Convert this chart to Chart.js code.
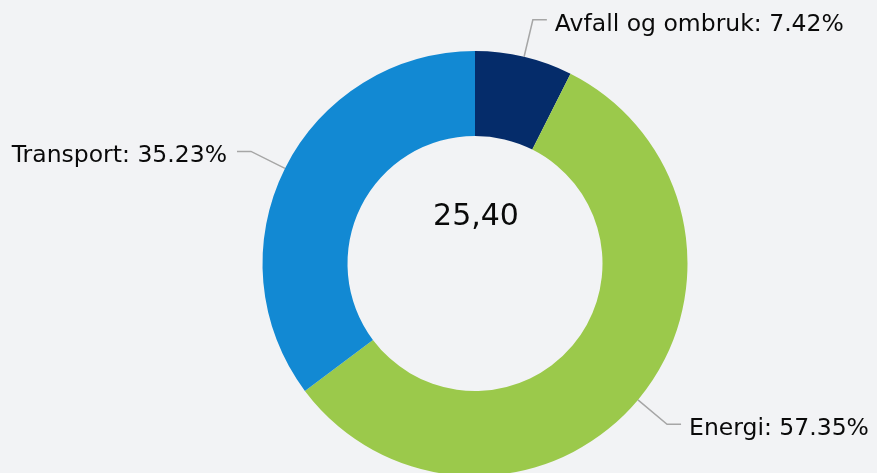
<!DOCTYPE html>
<html>
<head>
<meta charset="utf-8">
<script src="https://cdn.jsdelivr.net/npm/chart.js@4.4.0/dist/chart.umd.min.js"></script>
<style>
  html, body { margin: 0; padding: 0; background: #f2f3f5; overflow: hidden; }
  #wrap { position: relative; width: 877px; height: 480px; }
</style>
</head>
<body>
<div id="wrap"><canvas id="myChart"></canvas></div>
<script>
var labels = ['Avfall og ombruk', 'Energi', 'Transport'];
var shares = [7.42, 57.35, 35.23];
var colors = ['#052c6a', '#9bc94b', '#1289d3'];
var totalText = '25,40';

// labels with leader lines, outside the ring
var outLabels = {
  id: 'outLabels',
  afterDatasetsDraw: function(chart) {
    var ctx = chart.ctx;
    var meta = chart.getDatasetMeta(0);
    ctx.save();
    ctx.font = '23.5px "DejaVu Sans"';
    ctx.textBaseline = 'alphabetic';
    meta.data.forEach(function(arc, i) {
      var p = arc.getProps(['x', 'y', 'startAngle', 'endAngle', 'outerRadius'], true);
      var mid = (p.startAngle + p.endAngle) / 2;
      var cos = Math.cos(mid), sin = Math.sin(mid);
      var x0 = p.x + cos * p.outerRadius, y0 = p.y + sin * p.outerRadius;
      var x1 = p.x + cos * (p.outerRadius + 38), y1 = p.y + sin * (p.outerRadius + 38);
      var right = cos >= 0;
      var x2 = x1 + (right ? 14 : -14);
      ctx.strokeStyle = '#a6a6a6';
      ctx.lineWidth = 1.5;
      ctx.beginPath();
      ctx.moveTo(x0, y0);
      ctx.lineTo(x1, y1);
      ctx.lineTo(x2, y1);
      ctx.stroke();
      ctx.fillStyle = '#0a0a0a';
      ctx.textAlign = right ? 'left' : 'right';
      ctx.fillText(labels[i] + ': ' + shares[i].toFixed(2) + '%', x2 + (right ? 8 : -10), y1 + 11);
    });
    var a = meta.data[0];
    ctx.font = '30px "DejaVu Sans"';
    ctx.textAlign = 'center';
    ctx.textBaseline = 'middle';
    ctx.fillText(totalText, a.x + 1, a.y - 46);
    ctx.restore();
  }
};

new Chart(document.getElementById('myChart'), {
  type: 'doughnut',
  data: {
    labels: labels,
    datasets: [{
      data: shares,
      backgroundColor: colors,
      borderWidth: 0
    }]
  },
  options: {
    responsive: true,
    maintainAspectRatio: false,
    animation: false,
    cutout: '60%',
    layout: { padding: { top: 51, bottom: 4, left: 73, right: 0 } },
    plugins: {
      legend: { display: false },
      tooltip: { enabled: false }
    }
  },
  plugins: [outLabels]
});
</script>
</body>
</html>
